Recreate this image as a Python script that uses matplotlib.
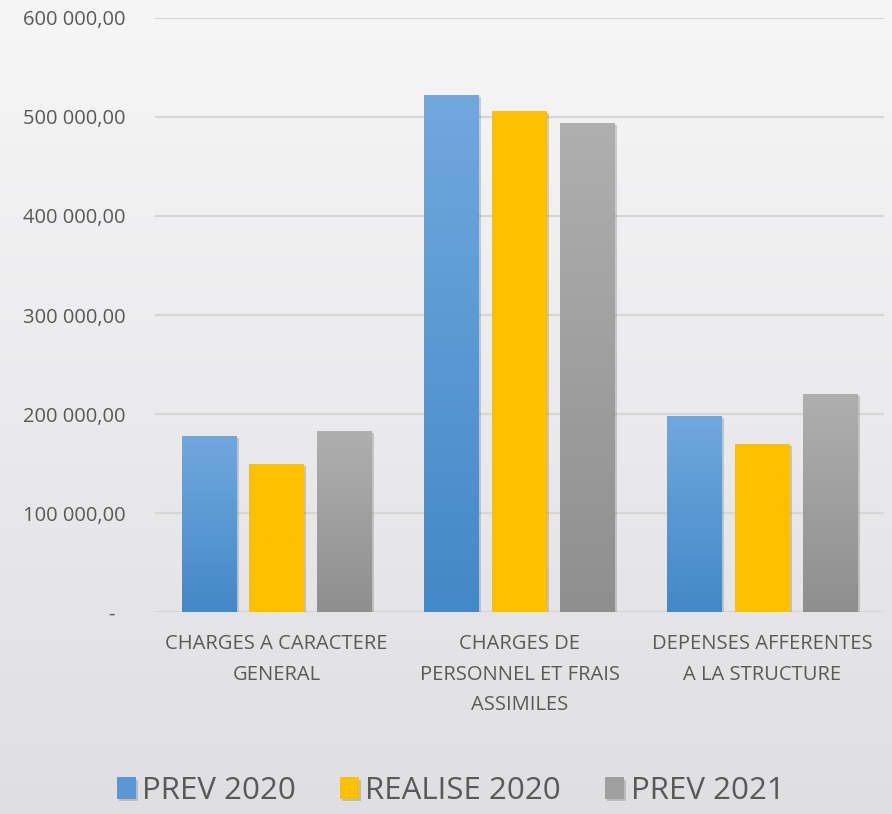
import numpy as np
import matplotlib.pyplot as plt
from matplotlib import patheffects
from matplotlib.colors import to_rgb
from matplotlib.ticker import FuncFormatter

plt.rcParams['font.family'] = ['Open Sans', 'DejaVu Sans']

# --- données ---
categories = ['CHARGES A CARACTERE\nGENERAL',
              'CHARGES DE\nPERSONNEL ET FRAIS\nASSIMILES',
              'DEPENSES AFFERENTES\nA LA STRUCTURE']
series = ['PREV 2020', 'REALISE 2020', 'PREV 2021']
prev_2020 = [178000, 522000, 198000]
realise_2020 = [150000, 506000, 170000]
prev_2021 = [183000, 494000, 220000]
y_ticks = [0, 100000, 200000, 300000, 400000, 500000, 600000]

valeurs = [prev_2020, realise_2020, prev_2021]
# couleurs (haut, bas) des dégradés
degrades = [('#70a8de', '#4388c8'), ('#ffc000', '#ffc000'), ('#afafaf', '#8f8f8f')]
texte = '#595959'

fig = plt.figure(figsize=(8.92, 8.14), dpi=100)

# fond en dégradé
bg = fig.add_axes([0, 0, 1, 1], zorder=-10)
g = np.linspace(0, 1, 256)[:, None, None]
top = np.array([0.965, 0.965, 0.968])
bot = np.array([0.875, 0.875, 0.888])
img = np.repeat(top + (bot - top) * g, 2, axis=1)
bg.imshow(img, aspect='auto', extent=[0, 1, 0, 1])
bg.axis('off')

ax = fig.add_axes([0.1738, 0.248, 0.8172, 0.730])
ax.set_facecolor('none')

x = np.arange(len(categories))
largeur = 0.226
ecart = 0.278

for i, (vals, nom, (c1, c2)) in enumerate(zip(valeurs, series, degrades)):
    pos = x + (i - 1) * ecart
    a = np.array(to_rgb(c1))
    b = np.array(to_rgb(c2))
    barres = ax.bar(pos, vals, width=largeur, color=tuple((a + b) / 2), label=nom, zorder=3,
                    path_effects=[patheffects.SimplePatchShadow(offset=(1.5, -1.5), alpha=0.25,
                                                                shadow_rgbFace='#555555'),
                                  patheffects.Normal()])
    # dégradé vertical dans chaque barre
    col = np.repeat(a + (b - a) * np.linspace(0, 1, 100)[:, None, None], 2, axis=1)
    for rect in barres:
        x0, y0 = rect.get_x(), rect.get_y()
        im = ax.imshow(col, aspect='auto', zorder=4,
                       extent=[x0, x0 + rect.get_width(), y0, y0 + rect.get_height()])
        im.set_clip_path(rect)

ax.set_xlim(-0.5, 2.5)
ax.set_ylim(0, 600000)
ax.set_yticks(y_ticks)


def fmt(v, p):
    if v == 0:
        return '-  '
    return f'{int(v):,}'.replace(',', ' ') + ',00'


ax.yaxis.set_major_formatter(FuncFormatter(fmt))
ax.set_xticks(x)
ax.set_xticklabels(categories, linespacing=1.7)
ax.tick_params(axis='y', length=0, pad=21, labelsize=14.5, labelcolor=texte)
ax.tick_params(axis='x', length=0, pad=16, labelsize=14.5, labelcolor=texte)
ax.grid(axis='y', color='#d6d6d6', linewidth=1.6, zorder=0)
for s in ax.spines.values():
    s.set_visible(False)

fig.legend(loc='center', bbox_to_anchor=(0.505, 0.028), ncol=3, frameon=False,
           fontsize=22.5, labelcolor=texte, handlelength=0.62, handleheight=0.69,
           handletextpad=0.2, columnspacing=1.4, borderpad=0)

fig.savefig('out.png', dpi=100)
